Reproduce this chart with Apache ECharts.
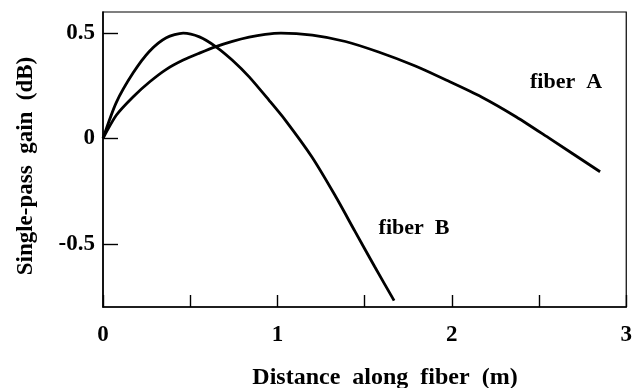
<!DOCTYPE html>
<html>
<head>
<meta charset="utf-8">
<script src="https://cdn.jsdelivr.net/npm/echarts@6/dist/echarts.min.js"></script>
<style>
  html, body { margin: 0; padding: 0; background: #fff; }
  #chart { width: 635px; height: 388px; }
</style>
</head>
<body>
<div id="chart"></div>
<script>
// Single-pass gain along two fibers (distance in m, gain in dB)
const fiberAPos  = [0, 0.076, 0.172, 0.27, 0.363, 0.46, 0.553, 0.648, 0.742, 0.838, 0.93, 1.02, 1.2, 1.39, 1.58, 1.78, 1.97, 2.17, 2.37, 2.56, 2.85];
const fiberAGain = [0, 0.11, 0.197, 0.27, 0.328, 0.372, 0.405, 0.436, 0.461, 0.481, 0.494, 0.5, 0.49, 0.46, 0.41, 0.347, 0.276, 0.197, 0.102, 0, -0.158];

const fiberBPos  = [0, 0.076, 0.172, 0.268, 0.363, 0.46, 0.553, 0.648, 0.742, 0.838, 0.952, 1.045, 1.197, 1.33, 1.444, 1.558, 1.669];
const fiberBGain = [0, 0.17, 0.31, 0.415, 0.478, 0.5, 0.482, 0.435, 0.371, 0.292, 0.181, 0.087, -0.087, -0.27, -0.44, -0.609, -0.77];

const xTickValues = [0, 1, 2, 3];
const yTickValues = [-0.5, 0, 0.5];

const xTitle = 'Distance  along  fiber  (m)';
const yTitle = 'Single-pass  gain  (dB)';
const labelA = 'fiber  A';
const labelB = 'fiber  B';

const pairs = (xs, ys) => xs.map((x, i) => [x, ys[i]]);

const FONT = 'Liberation Serif';
const INK = '#000';

const chart = echarts.init(document.getElementById('chart'), null, { renderer: 'canvas' });

chart.setOption({
  animation: false,
  backgroundColor: '#fff',
  grid: {
    left: 103, right: 4, top: 12, bottom: 81,
    show: true, borderColor: INK, borderWidth: 1.2
  },
  xAxis: {
    type: 'value',
    min: 0, max: 3, interval: 0.5,
    axisLine: { onZero: false, lineStyle: { color: INK, width: 1.6 } },
    axisTick: { inside: true, length: 12, lineStyle: { color: INK, width: 1.4 } },
    axisLabel: {
      margin: 17,
      color: INK, fontFamily: FONT, fontWeight: 'bold', fontSize: 23,
      formatter: v => (xTickValues.includes(v) ? String(v) : '')
    },
    splitLine: { show: false }
  },
  yAxis: {
    type: 'value',
    min: -0.8, max: 0.6,
    axisLine: { show: true, onZero: false, lineStyle: { color: INK, width: 1.6 } },
    axisTick: { show: true, inside: true, length: 15, customValues: yTickValues, lineStyle: { color: INK, width: 1.4 } },
    axisLabel: {
      margin: 8, customValues: yTickValues,
      color: INK, fontFamily: FONT, fontWeight: 'bold', fontSize: 23,
      formatter: v => (v === 0 ? '0' : String(v))
    },
    splitLine: { show: false }
  },
  series: [
    {
      name: 'fiber A', type: 'line', smooth: 0.25, symbol: 'none',
      lineStyle: { color: INK, width: 2.8 },
      data: pairs(fiberAPos, fiberAGain)
    },
    {
      name: 'fiber B', type: 'line', smooth: 0.25, symbol: 'none',
      lineStyle: { color: INK, width: 2.8 },
      data: pairs(fiberBPos, fiberBGain)
    }
  ],
  graphic: [
    {
      type: 'text', x: 385, y: 378,
      style: { text: xTitle, fill: INK, font: `bold 24px "${FONT}"`, textAlign: 'center', textVerticalAlign: 'middle' }
    },
    {
      type: 'text', x: 26, y: 166, rotation: Math.PI / 2,
      style: { text: yTitle, fill: INK, font: `bold 23px "${FONT}"`, textAlign: 'center', textVerticalAlign: 'middle' }
    },
    {
      type: 'text', x: 566, y: 82,
      style: { text: labelA, fill: INK, font: `bold 22px "${FONT}"`, textAlign: 'center', textVerticalAlign: 'middle' }
    },
    {
      type: 'text', x: 414, y: 228,
      style: { text: labelB, fill: INK, font: `bold 22px "${FONT}"`, textAlign: 'center', textVerticalAlign: 'middle' }
    }
  ]
});
</script>
</body>
</html>
